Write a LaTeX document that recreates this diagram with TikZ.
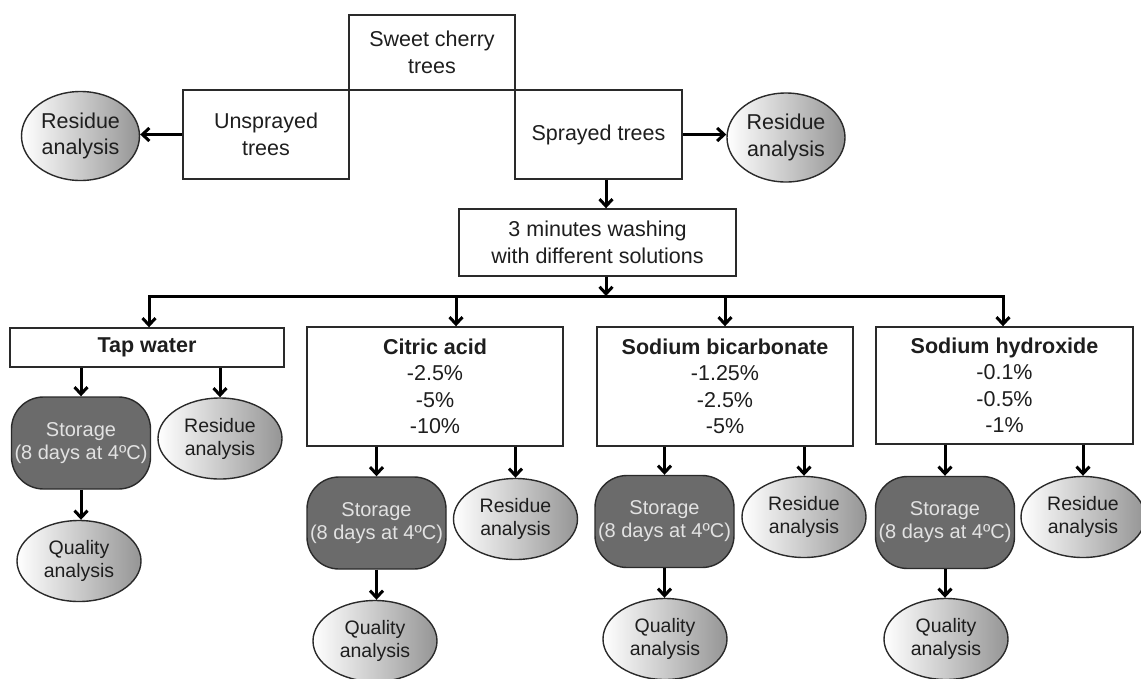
\documentclass[tikz,border=0pt]{standalone}
\usepackage{fontspec}
\setmainfont{Liberation Sans}
\usetikzlibrary{arrows.meta,shapes.geometric,calc}
\definecolor{edge}{HTML}{2A2A2A}
\definecolor{stfill}{HTML}{6B6B6B}
\definecolor{sttext}{HTML}{E2E2E2}
\definecolor{shadeL}{HTML}{959595}
\definecolor{txt}{HTML}{1E1E1E}
\newcommand{\bigf}{\fontsize{21.5}{26.5}\selectfont}
\newcommand{\smf}{\fontsize{19.5}{23}\selectfont}
\newcommand{\stf}{\fontsize{20}{23}\selectfont}
\begin{document}
\begin{tikzpicture}[x=1pt,y=-1pt,
 box/.style={draw=edge, line width=1.4pt, fill=white, rectangle, inner sep=0pt, align=center, font=\bigf, text=txt},
 oval/.style={draw=edge, line width=1.4pt, ellipse, inner sep=0pt, align=center, left color=white, right color=shadeL, text=txt},
 bigoval/.style={oval, font=\bigf, minimum width=118pt, minimum height=89pt},
 smoval/.style={oval, font=\smf, minimum width=124pt, minimum height=81pt},
 storebox/.style={draw=edge, line width=1.4pt, fill=stfill, rectangle, rounded corners=32pt, text=sttext, font=\stf, align=center, inner sep=0pt, minimum width=139pt, minimum height=92pt},
 arr/.style={line width=3pt, -{Straight Barb[length=7pt,width=13pt]}},
 darr/.style={line width=3pt, {Straight Barb[length=7pt,width=13pt]}-{Straight Barb[length=7pt,width=13pt]}}
]
\useasboundingbox (0,0) rectangle (1141,678);

% top part
\node[box, minimum width=166pt, minimum height=75pt] (sweet) at (432,52.5) {Sweet cherry\\trees};
\node[box, minimum width=166pt, minimum height=89pt] (unspr) at (266,134.5) {Unsprayed\\trees};
\node[box, minimum width=167pt, minimum height=89pt] (spr) at (598.5,134.5) {Sprayed trees};
\node[bigoval] (resL) at (80.5,136) {Residue\\analysis};
\node[bigoval] (resR) at (786,137.5) {Residue\\analysis};
\node[box, minimum width=277pt, minimum height=67pt] (wash) at (597.5,242.5) {3 minutes washing\\with different solutions};

\coordinate (ax) at (606,0);
\coordinate (b1) at (149,296);
\coordinate (b2) at (456,296);
\coordinate (b3) at (725,296);
\coordinate (b4) at (1003,296);

\draw[arr] (unspr.west) -- (resL.east |- unspr.west);
\draw[arr] (spr.east) -- (resR.west |- spr.east);
\draw[arr] (spr.south -| ax) -- (wash.north -| ax);

% solutions
\node[box, minimum width=274pt, minimum height=39pt, font=\bigf\bfseries] (tap) at (147,347.5) {Tap water};
\node[box, minimum width=256pt, minimum height=119pt] (cit) at (435,386.5) {\textbf{Citric acid}\\-2.5\%\\-5\%\\-10\%};
\node[box, minimum width=256pt, minimum height=119pt] (bic) at (725,386.5) {\textbf{Sodium bicarbonate}\\-1.25\%\\-2.5\%\\-5\%};
\node[box, minimum width=257pt, minimum height=117pt] (hyd) at (1004.5,385.5) {\textbf{Sodium hydroxide}\\-0.1\%\\-0.5\%\\-1\%};

\draw[arr] (wash.south -| ax) -- (ax |- b1);
\draw[darr] (tap.north -| b1) -- (b1) -- (b4) -- (hyd.north -| b4);
\draw[arr] (b2) -- (cit.north -| b2);
\draw[arr] (b3) -- (bic.north -| b3);

% tap water group
\node[storebox] (st1) at (81,443) {Storage\\(8 days at 4ºC)};
\node[smoval] (rs1) at (220,438.5) {Residue\\analysis};
\node[smoval] (qa1) at (79,561) {Quality\\analysis};
% citric group
\node[storebox] (st2) at (376.5,523) {Storage\\(8 days at 4ºC)};
\node[smoval] (rs2) at (515.5,519) {Residue\\analysis};
\node[smoval] (qa2) at (375,641) {Quality\\analysis};
% bicarbonate group
\node[storebox] (st3) at (664.5,521.5) {Storage\\(8 days at 4ºC)};
\node[smoval] (rs3) at (804,517) {Residue\\analysis};
\node[smoval] (qa3) at (665,639) {Quality\\analysis};
% hydroxide group
\node[storebox] (st4) at (945,522.5) {Storage\\(8 days at 4ºC)};
\node[smoval] (rs4) at (1083,517) {Residue\\analysis};
\node[smoval] (qa4) at (946,639) {Quality\\analysis};

\draw[arr] (tap.south -| st1.north) -- (st1.north);
\draw[arr] (tap.south -| rs1.north) -- (rs1.north);
\draw[arr] (st1.south) -- (st1.south |- qa1.north);

\draw[arr] (cit.south -| st2.north) -- (st2.north);
\draw[arr] (cit.south -| rs2.north) -- (rs2.north);
\draw[arr] (st2.south) -- (st2.south |- qa2.north);

\draw[arr] (bic.south -| st3.north) -- (st3.north);
\draw[arr] (bic.south -| rs3.north) -- (rs3.north);
\draw[arr] (st3.south) -- (st3.south |- qa3.north);

\draw[arr] (hyd.south -| st4.north) -- (st4.north);
\draw[arr] (hyd.south -| rs4.north) -- (rs4.north);
\draw[arr] (st4.south) -- (st4.south |- qa4.north);
\end{tikzpicture}
\end{document}
